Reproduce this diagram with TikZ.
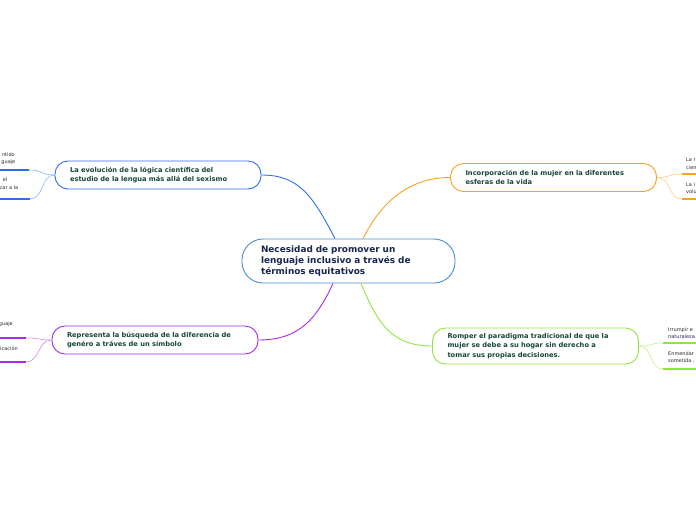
\documentclass[tikz,border=0pt]{standalone}
\usepackage{fontspec}
\setmainfont{DejaVu Sans}
\definecolor{azulcentro}{RGB}{74,142,206}
\definecolor{tintacentro}{RGB}{22,38,78}
\definecolor{tintarama}{RGB}{22,72,52}
\definecolor{azulrama}{RGB}{48,108,238}
\definecolor{naranjarama}{RGB}{246,162,32}
\definecolor{moradorama}{RGB}{164,42,236}
\definecolor{verderama}{RGB}{142,230,58}
\definecolor{grishoja}{RGB}{40,40,40}
\begin{document}
\begin{tikzpicture}[x=1pt,y=-1pt,
    centro/.style={draw=azulcentro,fill=white,line width=0.9pt,rounded corners=21pt,
      minimum width=213pt,minimum height=44pt,text width=175pt,inner xsep=19pt,
      align=left,text=tintacentro,font=\bfseries\fontsize{8.9}{11.4}\selectfont},
    rama/.style={fill=white,line width=0.9pt,rounded corners=13pt,
      minimum width=206pt,minimum height=28pt,text width=176pt,inner xsep=15pt,
      align=left,text=tintarama,font=\bfseries\fontsize{6.7}{9.4}\selectfont},
    hoja/.style={inner sep=0pt,text=grishoja,font=\fontsize{5}{7.2}\selectfont},
    enlace/.style={line width=0.9pt},
    subenlace/.style={line width=0.6pt},
    raya/.style={line width=1.8pt}]
  \useasboundingbox (0,0) rectangle (696,520);
  \clip (0,0) rectangle (696,520);

  % tema central y ramas
  \node[centro] (nec) at (348.5,261) {Necesidad de promover un\\lenguaje inclusivo a través de\\términos equitativos};
  \node[rama,draw=azulrama] (evol) at (158,175) {La evolución de la lógica científica del\\estudio de la lengua más allá del sexismo};
  \node[rama,draw=moradorama] (repr) at (155,340) {Representa la búsqueda de la diferencia de\\genéro a tráves de un símbolo};
  \node[rama,draw=naranjarama] (inco) at (553.5,177.5) {Incorporación de la mujer en la diferentes\\esferas de la vida};
  \node[rama,draw=verderama,minimum height=36pt] (romp) at (535.5,346) {Romper el paradigma tradicional de que la\\mujer se debe a su hogar sin derecho a\\tomar sus propias decisiones.};

  \draw[enlace,azulrama] ([xshift=-13.5pt]nec.north) .. controls +(-22,-42) and +(38,0) .. (evol.east);
  \draw[enlace,naranjarama] ([xshift=14.5pt]nec.north) .. controls +(20,-40) and +(-38,0) .. (inco.west);
  \draw[enlace,moradorama] ([xshift=-15.5pt]nec.south) .. controls +(-16,34) and +(42,0) .. (repr.east);
  \draw[enlace,verderama] ([xshift=12.5pt]nec.south) .. controls +(16,38) and +(-42,0) .. (romp.west);

  % subtemas recortados por el borde
  \coordinate (evA) at (29,170);  \coordinate (evB) at (30,199);
  \coordinate (reA) at (26,338);  \coordinate (reB) at (26,362);
  \coordinate (inA) at (682,174); \coordinate (inB) at (682,199);
  \coordinate (roA) at (663,343); \coordinate (roB) at (663,369);

  \foreach \n/\x/\y/\t in {evt1/15/155/ntido, evt2/15.5/162.5/guaje, evt3/7.5/180/el,
      evt4/18.5/187.5/car a la, ret1/13/324/guaje, ret2/18/349/icación}
    \node[hoja,anchor=east] (\n) at (\x,\y) {\t};
  \node[hoja,anchor=north west,align=left] (intA) at (686,158) {La r\\cien};
  \node[hoja,anchor=north west,align=left] (intB) at (686,182) {La i\\volu};
  \node[hoja,anchor=north west,align=left] (rotA) at (668,327) {Irrumpir e\\naturaleza};
  \node[hoja,anchor=north west,align=left] (rotB) at (668,351.5) {Enmendar\\sometida .};

  \foreach \p in {evA,evB}{
    \draw[subenlace,azulrama!55] (evol.west) .. controls +(-14,0) and +(14,0) .. (\p);
    \draw[raya,azulrama] (\p) -- ++(-40,0);
  }
  \foreach \p in {reA,reB}{
    \draw[subenlace,moradorama!55] (repr.west) .. controls +(-14,0) and +(14,0) .. (\p);
    \draw[raya,moradorama] (\p) -- ++(-40,0);
  }
  \foreach \p in {inA,inB}{
    \draw[subenlace,naranjarama!55] (inco.east) .. controls +(14,0) and +(-14,0) .. (\p);
    \draw[raya,naranjarama] (\p) -- ++(40,0);
  }
  \foreach \p in {roA,roB}{
    \draw[subenlace,verderama!55] (romp.east) .. controls +(14,0) and +(-14,0) .. (\p);
    \draw[raya,verderama] (\p) -- ++(40,0);
  }
\end{tikzpicture}
\end{document}
